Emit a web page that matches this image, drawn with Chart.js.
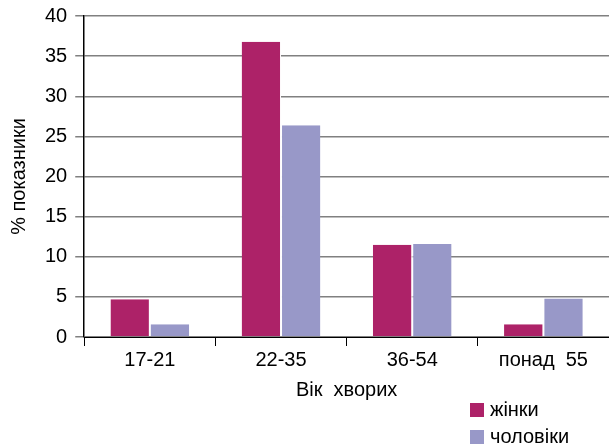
<!DOCTYPE html>
<html>
<head>
<meta charset="utf-8">
<script src="https://cdn.jsdelivr.net/npm/chart.js@4"></script>
<style>
    body { margin: 0; background: #fff; }
    #wrap { position: relative; width: 609px; height: 448px; }
    #legend { position: absolute; left: 470px; top: 396px; font-family: "Liberation Sans", Arial, sans-serif; font-size: 20px; color: #000; }
    #legend div { height: 27px; line-height: 27px; }
    #legend span { display: inline-block; width: 14px; height: 14px; margin-right: 6px; vertical-align: -1px; }
</style>
</head>
<body>
<div id="wrap">
    <canvas id="chart" width="609" height="448"></canvas>
    <div id="legend"></div>
</div>
<script>
// Дані з графіка
const categories = ['17-21', '22-35', '36-54', 'понад  55'];
const women = [4.7, 36.8, 11.5, 1.6];
const men = [1.6, 26.4, 11.6, 4.8];
const seriesNames = ['жінки', 'чоловіки'];
const seriesColors = ['#AD2268', '#9898C8'];
const yTicks = [0, 5, 10, 15, 20, 25, 30, 35, 40];

const font = { family: '"Liberation Sans", Arial, sans-serif', size: 20 };

new Chart(document.getElementById('chart'), {
    type: 'bar',
    data: {
        labels: categories,
        datasets: [
            { label: seriesNames[0], data: women, backgroundColor: seriesColors[0], borderColor: '#fff', borderWidth: { right: 1 }, borderSkipped: false },
            { label: seriesNames[1], data: men, backgroundColor: seriesColors[1], borderColor: '#fff', borderWidth: { left: 1 }, borderSkipped: false }
        ]
    },
    options: {
        responsive: false,
        animation: false,
        layout: { padding: { top: 0, right: 0, bottom: 46, left: 7 } },
        datasets: { bar: { categoryPercentage: 0.6, barPercentage: 1.0 } },
        plugins: {
            legend: { display: false },
            tooltip: { enabled: false }
        },
        scales: {
            x: {
                grid: { display: true, drawOnChartArea: false, offset: true, color: '#000', tickLength: 9, lineWidth: 1 },
                border: { color: '#000', width: 1 },
                ticks: { font: font, color: '#000', padding: 2 },
                title: { display: true, text: 'Вік  хворих', font: font, color: '#000', padding: { top: 4, bottom: 0 } }
            },
            y: {
                min: 0,
                max: 40,
                afterBuildTicks: function (axis) {
                    axis.ticks = yTicks.map(v => ({ value: v }));
                },
                grid: { color: '#808080', lineWidth: 1.5, tickLength: 9 },
                border: { color: '#000', width: 1.5 },
                ticks: { font: { family: font.family, size: 20, lineHeight: 0.8 }, color: '#000', padding: 8 },
                title: { display: true, text: '% показники', font: font, color: '#000', padding: { top: 0, bottom: 6 } }
            }
        }
    }
});

// Легенда
const legend = document.getElementById('legend');
seriesNames.forEach((name, i) => {
    const row = document.createElement('div');
    row.innerHTML = `<span style="background:${seriesColors[i]}"></span>${name}`;
    legend.appendChild(row);
});
</script>
</body>
</html>
